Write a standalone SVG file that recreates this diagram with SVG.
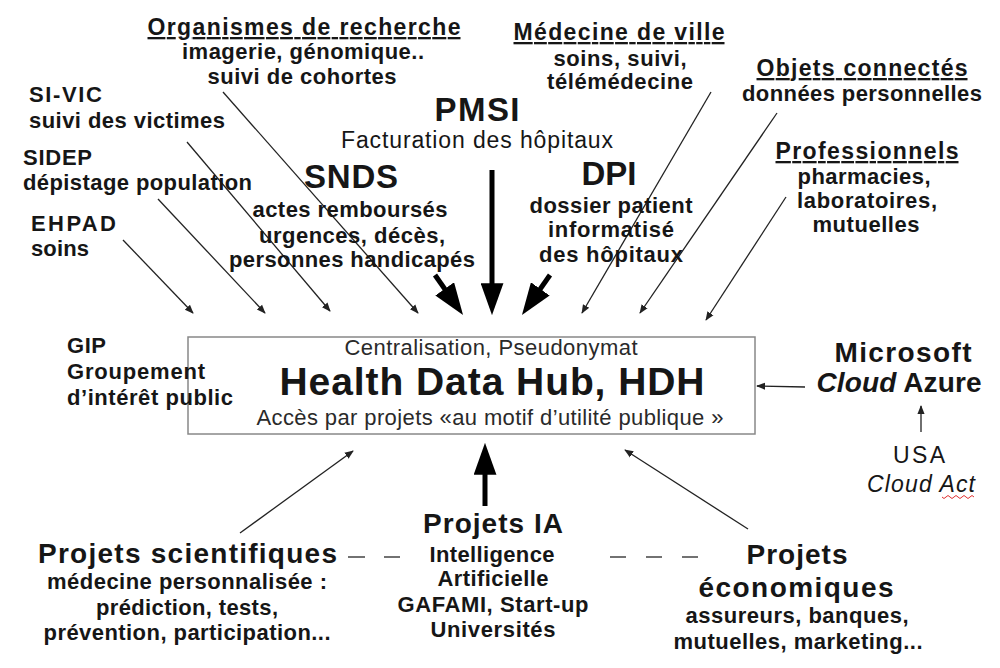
<svg xmlns="http://www.w3.org/2000/svg" width="1000" height="668" viewBox="0 0 1000 668">
<defs>
<style>
text{font-family:"Liberation Sans",Arial,sans-serif;fill:#161616}
.b{font-weight:bold}
.h{font-weight:bold;font-size:23px}
.s{font-weight:bold;font-size:22px}
.r{font-size:22px;fill:#2a2a2a}
.big{font-weight:bold;font-size:33px}
.l{font-weight:bold;font-size:28px}
.m{text-anchor:middle}
.u{text-decoration:underline}
.thin{stroke:#222;stroke-width:1.3;fill:none}
.thick{stroke:#000;stroke-width:5;fill:none}
</style>
<marker id="ah" viewBox="0 0 10 10" refX="9" refY="5" markerWidth="9" markerHeight="9" markerUnits="userSpaceOnUse" orient="auto">
<path d="M0,1 L10,5 L0,9 z" fill="#222"/>
</marker>
<marker id="ahb" viewBox="0 0 14 10" refX="10" refY="5" markerWidth="6.4" markerHeight="4.6" orient="auto">
<path d="M0,0 L14,5 L0,10 z" fill="#000"/>
</marker>
</defs>
<rect width="1000" height="668" fill="#fff"/>

<g id="connectors">
<line class="thin" x1="123" y1="240" x2="193" y2="313" marker-end="url(#ah)"/>
<line class="thin" x1="158" y1="199" x2="265" y2="313" marker-end="url(#ah)"/>
<line class="thin" x1="187" y1="142" x2="330" y2="311" marker-end="url(#ah)"/>
<line class="thin" x1="223" y1="92" x2="418" y2="313" marker-end="url(#ah)"/>
<line class="thick" x1="435" y1="275" x2="457.8" y2="307.6" marker-end="url(#ahb)"/>
<line class="thick" x1="492" y1="170" x2="492" y2="306" marker-end="url(#ahb)"/>
<line class="thick" x1="550" y1="275" x2="527.2" y2="307.6" marker-end="url(#ahb)"/>
<line class="thin" x1="711" y1="92" x2="582" y2="313" marker-end="url(#ah)"/>
<line class="thin" x1="777" y1="113" x2="640" y2="313" marker-end="url(#ah)"/>
<line class="thin" x1="786" y1="197" x2="706" y2="320" marker-end="url(#ah)"/>
<line class="thin" x1="805" y1="387" x2="757" y2="386" marker-end="url(#ah)"/>
<line class="thin" x1="921" y1="432" x2="921" y2="406" marker-end="url(#ah)"/>
<line class="thin" x1="240" y1="533" x2="353" y2="451" marker-end="url(#ah)"/>
<line class="thick" x1="485" y1="506" x2="485" y2="452" marker-end="url(#ahb)"/>
<line class="thin" x1="748" y1="529" x2="625" y2="450" marker-end="url(#ah)"/>
<line x1="348" y1="557" x2="400" y2="557" stroke="#444" stroke-width="1.5" stroke-dasharray="17,19"/>
<line x1="610" y1="557" x2="698" y2="557" stroke="#444" stroke-width="1.5" stroke-dasharray="16,20"/>
</g>

<g id="hdh">
<rect x="188" y="337" width="567" height="97" fill="#fff" stroke="#888" stroke-width="1.5"/>
<text class="m r" x="491" y="355" textLength="293">Centralisation, Pseudonymat</text>
<text class="m b" x="492" y="395" font-size="39" textLength="425">Health Data Hub, HDH</text>
<text class="m r" x="490" y="425" textLength="467">Accès par projets «au motif d’utilité publique »</text>
</g>

<g id="gip">
<text class="s" x="67" y="353" textLength="39">GIP</text>
<text class="s" x="67" y="379" textLength="138">Groupement</text>
<text class="s" x="67" y="405" textLength="166">d’intérêt public</text>
</g>

<g id="organismes">
<text class="h m u" x="304" y="35" textLength="313">Organismes de recherche</text>
<text class="s m" x="303" y="59" textLength="242">imagerie, génomique..</text>
<text class="s m" x="302" y="84" textLength="189">suivi de cohortes</text>
</g>

<g id="sivic">
<text class="s" x="29" y="102" textLength="73">SI-VIC</text>
<text class="s" x="29" y="128" textLength="196">suivi des victimes</text>
</g>
<g id="sidep">
<text class="s" x="23" y="165" textLength="69">SIDEP</text>
<text class="s" x="23" y="190" textLength="229">dépistage population</text>
</g>
<g id="ehpad">
<text class="s" x="31" y="231" textLength="85">EHPAD</text>
<text class="s" x="31" y="256" textLength="58">soins</text>
</g>

<g id="pmsi">
<text class="big m" x="477" y="121" textLength="85">PMSI</text>
<text class="m" x="477" y="148" font-size="23" textLength="272">Facturation des hôpitaux</text>
</g>

<g id="snds">
<text class="big m" x="351" y="188" textLength="94">SNDS</text>
<text class="s m" x="350" y="217" textLength="195">actes remboursés</text>
<text class="s m" x="352" y="243" textLength="186">urgences, décès,</text>
<text class="s m" x="352" y="267" textLength="246">personnes handicapés</text>
</g>

<g id="dpi">
<text class="big m" x="609" y="185" textLength="55">DPI</text>
<text class="s m" x="611" y="213" textLength="163">dossier patient</text>
<text class="s m" x="611" y="237" textLength="126">informatisé</text>
<text class="s m" x="611" y="262" textLength="144">des hôpitaux</text>
</g>

<g id="medecine">
<text class="h m u" x="619" y="40" textLength="211">Médecine de ville</text>
<text class="s m" x="620" y="66" textLength="133">soins, suivi,</text>
<text class="s m" x="620" y="89" textLength="146">télémédecine</text>
</g>

<g id="objets">
<text class="h m u" x="862" y="76" textLength="211">Objets connectés</text>
<text class="s m" x="862" y="101" textLength="240">données personnelles</text>
</g>

<g id="professionnels">
<text class="h m u" x="867" y="159" textLength="183">Professionnels</text>
<text class="s m" x="864" y="184" textLength="133">pharmacies,</text>
<text class="s m" x="867" y="208" textLength="140">laboratoires,</text>
<text class="s m" x="866" y="232" textLength="107">mutuelles</text>
</g>

<g id="microsoft">
<text class="l m" x="903" y="362" textLength="137">Microsoft</text>
<text class="l m" x="899" y="392" textLength="165"><tspan font-style="italic">Cloud</tspan> Azure</text>
</g>

<g id="usa">
<text class="m" x="919" y="463" font-size="23" textLength="52">USA</text>
<text class="m" x="921" y="492" font-size="23" font-style="italic" textLength="108">Cloud Act</text>
<path d="M942,497 q2,3 4,0 t4,0 t4,0 t4,0 t4,0 t4,0 t4,0 t4,0" fill="none" stroke="#e03030" stroke-width="1"/>
</g>

<g id="scientifiques">
<text class="l" x="38" y="563" textLength="299">Projets scientifiques</text>
<text class="s m" x="187" y="589" textLength="280">médecine personnalisée :</text>
<text class="s m" x="187" y="615" textLength="182">prédiction, tests,</text>
<text class="s m" x="187" y="640" textLength="287">prévention, participation...</text>
</g>

<g id="ia">
<text class="l m" x="493" y="533" textLength="140">Projets IA</text>
<text class="s m" x="492" y="562" textLength="125">Intelligence</text>
<text class="s m" x="493" y="586" textLength="111">Artificielle</text>
<text class="s m" x="493" y="612" textLength="191">GAFAMI, Start-up</text>
<text class="s m" x="493" y="637" textLength="125">Universités</text>
</g>

<g id="economiques">
<text class="l m" x="797" y="564" textLength="101">Projets</text>
<text class="l m" x="796" y="597" textLength="195">économiques</text>
<text class="s m" x="797" y="623" textLength="223">assureurs, banques,</text>
<text class="s m" x="798" y="649" textLength="249">mutuelles, marketing...</text>
</g>
</svg>
